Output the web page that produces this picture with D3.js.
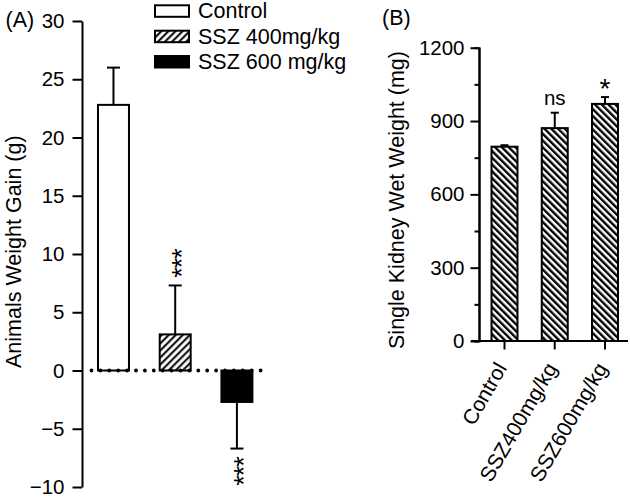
<!DOCTYPE html>
<html>
<head>
<meta charset="utf-8">
<script src="https://cdn.jsdelivr.net/npm/d3@7"></script>
<style>
  html, body { margin: 0; padding: 0; background: #fff; }
  svg { display: block; font-family: "Liberation Sans", Arial, sans-serif; }
</style>
</head>
<body>
<svg id="chart" width="630" height="501"></svg>
<script>
// ---------- Data ----------
// Panel A: animals weight gain (g)
const groupsA = ["Control", "SSZ 400mg/kg", "SSZ 600 mg/kg"];
const gainMean = [22.8, 3.1, -2.7];
const gainSem = [3.2, 4.2, 4.0];
const gainSig = ["", "***", "***"];
const ticksA = [-10, -5, 0, 5, 10, 15, 20, 25, 30];

// Panel B: single kidney wet weight (mg)
const groupsB = ["Control", "SSZ400mg/kg", "SSZ600mg/kg"];
const kidneyMean = [795, 871, 970];
const kidneySem = [6, 63, 28];
const kidneySig = ["", "ns", "*"];
const ticksBMajor = [0, 300, 600, 900, 1200];
const ticksBMinor = [150, 450, 750, 1050];

const svg = d3.select("#chart");
const defs = svg.append("defs");

// hatch patterns
defs.append("pattern").attr("id", "hatchA")
  .attr("patternUnits", "userSpaceOnUse").attr("width", 5).attr("height", 5)
  .attr("patternTransform", "rotate(45)")
  .call(p => {
    p.append("rect").attr("width", 5).attr("height", 5).attr("fill", "#fff");
    p.append("line").attr("x1", 1.2).attr("x2", 1.2).attr("y1", 0).attr("y2", 5)
      .attr("stroke", "#000").attr("stroke-width", 2);
  });
defs.append("pattern").attr("id", "hatchB")
  .attr("patternUnits", "userSpaceOnUse").attr("width", 4.8).attr("height", 4.8)
  .attr("patternTransform", "rotate(-45)")
  .call(p => {
    p.append("rect").attr("width", 4.8).attr("height", 4.8).attr("fill", "#fff");
    p.append("line").attr("x1", 1.2).attr("x2", 1.2).attr("y1", 0).attr("y2", 4.8)
      .attr("stroke", "#000").attr("stroke-width", 2.4);
  });

const fillsA = ["#fff", "url(#hatchA)", "#000"];
const fmt = d => (d < 0 ? "\u2212" + Math.abs(d) : String(d));

function styleAxis(g) {
  g.select(".domain").attr("stroke", "#000").attr("stroke-width", 2);
  g.selectAll(".tick line").attr("stroke", "#000").attr("stroke-width", 2);
  g.selectAll(".tick text").attr("fill", "#000").attr("font-size", 20.5)
    .attr("font-family", "'Liberation Sans', Arial, sans-serif");
}

// ---------- Panel A ----------
const yA = d3.scaleLinear().domain([-10, 30]).range([487, 21]);
const xA = d3.scaleBand().domain(groupsA).range([82, 268.4])
  .paddingInner(0.498).paddingOuter(0.259);

const axA = svg.append("g").attr("transform", "translate(82,0)")
  .call(d3.axisLeft(yA).tickValues(ticksA).tickFormat(fmt)
    .tickSize(9.5).tickSizeOuter(0).tickPadding(8));
styleAxis(axA);

const gA = svg.append("g");
// error bars
groupsA.forEach((c, i) => {
  const cx = xA(c) + xA.bandwidth() / 2;
  const v = gainMean[i];
  const end = v >= 0 ? v + gainSem[i] : v - gainSem[i];
  gA.append("line").attr("x1", cx).attr("x2", cx)
    .attr("y1", yA(v)).attr("y2", yA(end))
    .attr("stroke", "#000").attr("stroke-width", 2);
  gA.append("line").attr("x1", cx - 6.5).attr("x2", cx + 6.5)
    .attr("y1", yA(end)).attr("y2", yA(end))
    .attr("stroke", "#000").attr("stroke-width", 2);
});
// bars
gA.selectAll("rect.bar").data(groupsA).join("rect").attr("class", "bar")
  .attr("x", d => xA(d))
  .attr("width", xA.bandwidth())
  .attr("y", (d, i) => yA(Math.max(0, gainMean[i])))
  .attr("height", (d, i) => Math.abs(yA(gainMean[i]) - yA(0)))
  .attr("fill", (d, i) => fillsA[i])
  .attr("stroke", "#000").attr("stroke-width", 2);

// dotted zero line
gA.append("line")
  .attr("x1", 91.5).attr("x2", 268)
  .attr("y1", yA(0)).attr("y2", yA(0))
  .attr("stroke", "#000").attr("stroke-width", 3.8)
  .attr("stroke-linecap", "round").attr("stroke-dasharray", "0 8.9");

// significance stars (vertical)
groupsA.forEach((c, i) => {
  if (!gainSig[i]) return;
  const cx = xA(c) + xA.bandwidth() / 2;
  const v = gainMean[i];
  const cy = v >= 0 ? yA(v + gainSem[i]) - 22 : yA(v - gainSem[i]) + 23;
  gA.append("text")
    .attr("transform", `translate(${cx},${cy}) rotate(-90)`)
    .attr("text-anchor", "middle").attr("dy", "0.6em")
    .attr("letter-spacing", -1)
    .attr("font-size", 27).text(gainSig[i]);
});

// y title A
svg.append("text")
  .attr("transform", "translate(20.5,251.7) rotate(-90)")
  .attr("text-anchor", "middle").attr("font-size", 21.5)
  .text("Animals Weight Gain (g)");
svg.append("text").attr("x", 5.5).attr("y", 27).attr("font-size", 21.5).text("(A)");

// legend
const legend = svg.append("g");
const legY = [5.3, 30.7, 56];
groupsA.forEach((c, i) => {
  legend.append("rect").attr("x", 155).attr("y", legY[i])
    .attr("width", 34).attr("height", 11.5)
    .attr("fill", fillsA[i]).attr("stroke", "#000").attr("stroke-width", 2);
  legend.append("text").attr("x", 198).attr("y", legY[i] + 13)
    .attr("font-size", 21.5).text(c);
});

// ---------- Panel B ----------
const yB = d3.scaleLinear().domain([0, 1200]).range([341, 47.7]);
const xB = d3.scaleBand().domain(groupsB).range([479, 630.5])
  .paddingInner(0.483).paddingOuter(0.249);

const axBminor = svg.append("g").attr("transform", "translate(479,0)")
  .call(d3.axisLeft(yB).tickValues(ticksBMinor).tickSize(4.5).tickFormat(""));
styleAxis(axBminor);
const axB = svg.append("g").attr("transform", "translate(479,0)")
  .call(d3.axisLeft(yB).tickValues(ticksBMajor).tickFormat(fmt)
    .tickSize(8.5).tickSizeOuter(0).tickPadding(6));
styleAxis(axB);

const gB = svg.append("g");
groupsB.forEach((c, i) => {
  const cx = xB(c) + xB.bandwidth() / 2;
  const top = kidneyMean[i] + kidneySem[i];
  gB.append("line").attr("x1", cx).attr("x2", cx)
    .attr("y1", yB(kidneyMean[i])).attr("y2", yB(top))
    .attr("stroke", "#000").attr("stroke-width", 2);
  gB.append("line").attr("x1", cx - 4).attr("x2", cx + 4)
    .attr("y1", yB(top)).attr("y2", yB(top))
    .attr("stroke", "#000").attr("stroke-width", 2);
});
gB.selectAll("rect.bar").data(groupsB).join("rect").attr("class", "bar")
  .attr("x", d => xB(d))
  .attr("width", xB.bandwidth())
  .attr("y", (d, i) => yB(kidneyMean[i]))
  .attr("height", (d, i) => yB(0) - yB(kidneyMean[i]))
  .attr("fill", "url(#hatchB)")
  .attr("stroke", "#000").attr("stroke-width", 2);

const axBx = svg.append("g").attr("transform", `translate(0,${yB(0)})`)
  .call(d3.axisBottom(xB).tickSize(8.5).tickSizeOuter(0).tickFormat(""));
styleAxis(axBx);
axBx.select(".domain").attr("d", `M471,0H628`);

// rotated category labels
groupsB.forEach((c, i) => {
  const cx = xB(c) + xB.bandwidth() / 2;
  svg.append("text")
    .attr("transform", `translate(${cx + 3},${yB(0) + 27}) rotate(-60)`)
    .attr("text-anchor", "end").attr("font-size", 21).text(c);
});

// significance labels B
groupsB.forEach((c, i) => {
  if (!kidneySig[i]) return;
  const cx = xB(c) + xB.bandwidth() / 2;
  const top = yB(kidneyMean[i] + kidneySem[i]);
  const isStar = kidneySig[i] === "*";
  svg.append("text").attr("x", cx).attr("y", isStar ? top + 1 : top - 7.5)
    .attr("text-anchor", "middle").attr("font-size", isStar ? 28 : 20.5)
    .text(kidneySig[i]);
});

svg.append("text")
  .attr("transform", "translate(403.5,200) rotate(-90)")
  .attr("text-anchor", "middle").attr("font-size", 21.5)
  .text("Single Kidney Wet Weight (mg)");
svg.append("text").attr("x", 382).attr("y", 25).attr("font-size", 21.5).text("(B)");
</script>
</body>
</html>
